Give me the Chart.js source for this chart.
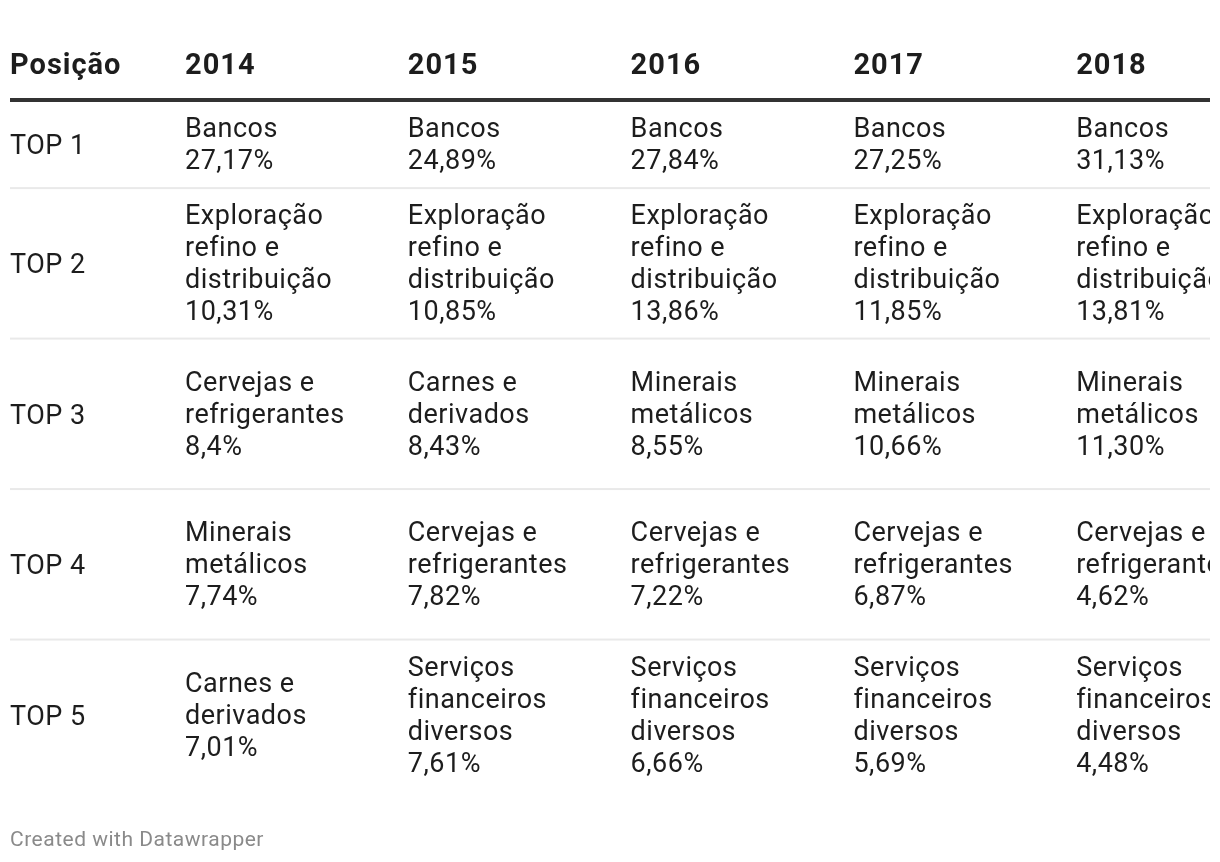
<!DOCTYPE html>
<html>
<head>
<meta charset="utf-8">
<script src="https://cdn.jsdelivr.net/npm/chart.js@4"></script>
<style>
  html, body { margin: 0; background: #fff; }
  #wrap { position: absolute; left: 0; top: 0; width: 1210px; height: 862px; overflow: hidden; }
  #wrap canvas { position: absolute; left: 0; top: 0; }
</style>
</head>
<body>
<div id="wrap"><canvas id="rankChart" width="1300" height="862"></canvas></div>
<script>
const positions = ['TOP 1', 'TOP 2', 'TOP 3', 'TOP 4', 'TOP 5'];
const years = ['2014', '2015', '2016', '2017', '2018'];

const sectors2014 = ['Bancos', 'Exploração refino e distribuição', 'Cervejas e refrigerantes', 'Minerais metálicos', 'Carnes e derivados'];
const shares2014 = ['27,17%', '10,31%', '8,4%', '7,74%', '7,01%'];
const sectors2015 = ['Bancos', 'Exploração refino e distribuição', 'Carnes e derivados', 'Cervejas e refrigerantes', 'Serviços financeiros diversos'];
const shares2015 = ['24,89%', '10,85%', '8,43%', '7,82%', '7,61%'];
const sectors2016 = ['Bancos', 'Exploração refino e distribuição', 'Minerais metálicos', 'Cervejas e refrigerantes', 'Serviços financeiros diversos'];
const shares2016 = ['27,84%', '13,86%', '8,55%', '7,22%', '6,66%'];
const sectors2017 = ['Bancos', 'Exploração refino e distribuição', 'Minerais metálicos', 'Cervejas e refrigerantes', 'Serviços financeiros diversos'];
const shares2017 = ['27,25%', '11,85%', '10,66%', '6,87%', '5,69%'];
const sectors2018 = ['Bancos', 'Exploração refino e distribuição', 'Minerais metálicos', 'Cervejas e refrigerantes', 'Serviços financeiros diversos'];
const shares2018 = ['31,13%', '13,81%', '11,30%', '4,62%', '4,48%'];

const sectorCols = [sectors2014, sectors2015, sectors2016, sectors2017, sectors2018];
const shareCols = [shares2014, shares2015, shares2016, shares2017, shares2018];

const bodyFont = '27px Roboto';
const headFont = 'bold 29px Roboto';
const lineH = 32;
const wrapWidth = 200;

// word wrap with an offscreen context
const mctx = document.createElement('canvas').getContext('2d');
mctx.font = bodyFont;
function wrap(text) {
  const words = text.split(' ');
  const out = [];
  let cur = '';
  words.forEach(w => {
    const test = cur ? cur + ' ' + w : w;
    if (cur && mctx.measureText(test).width + test.length * 0.5 > wrapWidth) {
      out.push(cur);
      cur = w;
    } else {
      cur = test;
    }
  });
  if (cur) out.push(cur);
  return out;
}

// cell lines: sector (wrapped) + share
const cells = positions.map((p, r) => sectorCols.map((col, c) => wrap(col[r]).concat(shareCols[c][r])));

// row span in line units; multi-line rows reserve four lines like the source table
const rowSpans = cells.map(row => {
  const n = Math.max(...row.map(l => l.length));
  return (n <= 2 ? 2 : 4) + 0.75;
});
const rowStarts = rowSpans.map((s, i) => rowSpans.slice(0, i).reduce((a, b) => a + b, 0));
const totalSpan = rowSpans.reduce((a, b) => a + b, 0);

const tablePlugin = {
  id: 'tableText',
  afterDraw(chart) {
    const { ctx, chartArea, scales: { x, y } } = chart;
    const colW = chartArea.width / years.length;
    const left = 10;
    ctx.save();

    // header
    ctx.fillStyle = '#1d1d1d';
    ctx.font = headFont;
    ctx.letterSpacing = '1px';
    ctx.textAlign = 'left';
    ctx.textBaseline = 'alphabetic';
    ctx.fillText('Posição', left, 74);
    years.forEach((yr, i) => ctx.fillText(yr, x.getPixelForValue(i) - colW / 2, 74));

    // header rule
    ctx.fillStyle = '#333333';
    ctx.fillRect(left, chartArea.top - 3, chart.width, 4);

    // rows
    ctx.font = bodyFont;
    ctx.letterSpacing = '0.5px';
    ctx.textBaseline = 'middle';
    positions.forEach((pos, r) => {
      const top = y.getPixelForValue(rowStarts[r]);
      const bottom = y.getPixelForValue(rowStarts[r] + rowSpans[r]);
      const mid = (top + bottom) / 2;
      if (r < positions.length - 1) {
        ctx.fillStyle = '#e9e9e9';
        ctx.fillRect(left, bottom - 1, chart.width, 2);
      }
      ctx.fillStyle = '#1d1d1d';
      ctx.fillText(pos, left, mid + 3);
      cells[r].forEach((lines, c) => {
        const cx = x.getPixelForValue(c) - colW / 2;
        const y0 = mid - (lines.length - 1) * lineH / 2;
        lines.forEach((ln, k) => ctx.fillText(ln, cx, y0 + k * lineH + 2));
      });
    });

    // footer
    ctx.fillStyle = '#8a8a8a';
    ctx.font = '21px Roboto';
    ctx.letterSpacing = '0.5px';
    ctx.textBaseline = 'alphabetic';
    ctx.fillText('Created with Datawrapper', left, 846);
    ctx.restore();
  }
};

new Chart(document.getElementById('rankChart'), {
  type: 'scatter',
  data: { labels: years, datasets: [] },
  options: {
    responsive: false,
    animation: false,
    layout: { padding: { left: 185, right: 1, top: 101, bottom: 72 } },
    plugins: { legend: { display: false }, tooltip: { enabled: false } },
    scales: {
      x: { type: 'category', labels: years, offset: true, display: false },
      y: { type: 'linear', reverse: true, min: 0, max: totalSpan, display: false }
    }
  },
  plugins: [tablePlugin]
});
</script>
</body>
</html>
